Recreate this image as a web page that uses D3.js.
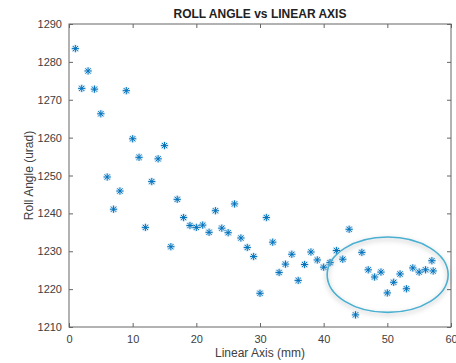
<!DOCTYPE html>
<html>
<head>
<script src="https://cdnjs.cloudflare.com/ajax/libs/d3/7.8.5/d3.min.js"></script>
<style>
  body { margin: 0; background: #fff; }
  svg { font-family: "Liberation Sans", Arial, sans-serif; }
</style>
</head>
<body>
<script>
// linear axis position (mm) and roll angle (urad)
var positions = [1, 2, 3, 4, 5, 6, 7, 8, 9, 10, 11, 12, 13, 14, 15, 16, 17, 18, 19, 20,
  21, 22, 23, 24, 25, 26, 27, 28, 29, 30, 31, 32, 33, 34, 35, 36, 37, 38, 39, 40,
  41, 42, 43, 44, 45, 46, 47, 48, 49, 50, 51, 52, 53, 54, 55, 56, 57, 57.2];
var rollAngles = [1283.5, 1273.0, 1277.6, 1272.8, 1266.3, 1249.6, 1241.1, 1245.9, 1272.4, 1259.7,
  1254.8, 1236.3, 1248.4, 1254.4, 1257.9, 1231.2, 1243.7, 1238.9, 1236.8, 1236.3,
  1236.9, 1235.0, 1240.7, 1236.1, 1234.9, 1242.5, 1233.5, 1231.0, 1228.6, 1218.9,
  1238.9, 1232.4, 1224.4, 1226.6, 1229.2, 1222.3, 1226.5, 1229.8, 1227.7, 1225.8,
  1227.0, 1230.2, 1227.9, 1235.8, 1213.2, 1229.7, 1225.1, 1223.2, 1224.5, 1219.0,
  1221.8, 1224.0, 1220.1, 1225.6, 1224.5, 1225.1, 1227.5, 1224.8];
var xTicks = [0, 10, 20, 30, 40, 50, 60];
var yTicks = [1210, 1220, 1230, 1240, 1250, 1260, 1270, 1280, 1290];
// highlighted region (centre and radii in data units)
var ellipseCentre = [50.05, 1223.8];
var ellipseRadii = [9.5, 9.95];

drawChart();

function drawChart() {
  var data = positions.map(function (p, i) { return { x: p, y: rollAngles[i] }; });

  var width = 456, height = 363;
  var mLeft = 69, mRight = 451, mTop = 24, mBottom = 327;

  var svg = d3.select("body").append("svg")
    .attr("width", width)
    .attr("height", height);

  var f = svg.append("defs").append("filter").attr("id", "shadow")
    .attr("x", "-20%").attr("y", "-20%").attr("width", "140%").attr("height", "150%");
  f.append("feDropShadow")
    .attr("dx", 0).attr("dy", 2).attr("stdDeviation", 2.5)
    .attr("flood-color", "#000").attr("flood-opacity", 0.3);

  var x = d3.scaleLinear().domain([0, 60]).range([mLeft, mRight]);
  var y = d3.scaleLinear().domain([1210, 1290]).range([mBottom, mTop]);

  var axisColor = "#666";
  var textColor = "#404040";

  // axis box
  svg.append("rect")
    .attr("x", mLeft).attr("y", mTop)
    .attr("width", mRight - mLeft).attr("height", mBottom - mTop)
    .attr("fill", "none").attr("stroke", axisColor).attr("stroke-width", 1);

  function styleAxis(g) {
    g.select(".domain").remove();
    g.selectAll(".tick line").attr("stroke", axisColor);
    g.selectAll(".tick text").attr("fill", textColor).style("font-size", "11px");
  }

  svg.append("g").attr("transform", "translate(0," + mBottom + ")")
    .call(d3.axisBottom(x).tickValues(xTicks).tickSize(-4).tickPadding(8))
    .call(styleAxis);
  svg.append("g").attr("transform", "translate(0," + mTop + ")")
    .call(d3.axisTop(x).tickValues(xTicks).tickSize(-4).tickFormat(""))
    .call(styleAxis);
  svg.append("g").attr("transform", "translate(" + mLeft + ",0)")
    .call(d3.axisLeft(y).tickValues(yTicks).tickSize(-4).tickPadding(7).tickFormat(d3.format("d")))
    .call(styleAxis);
  svg.append("g").attr("transform", "translate(" + mRight + ",0)")
    .call(d3.axisRight(y).tickValues(yTicks).tickSize(-4).tickFormat(""))
    .call(styleAxis);

  // title and labels
  svg.append("text")
    .attr("x", (mLeft + mRight) / 2).attr("y", 18)
    .attr("text-anchor", "middle")
    .style("font-size", "12px").style("font-weight", "bold")
    .attr("fill", "#222")
    .text("ROLL ANGLE vs LINEAR AXIS");

  svg.append("text")
    .attr("x", (mLeft + mRight) / 2).attr("y", 357)
    .attr("text-anchor", "middle")
    .style("font-size", "12px")
    .attr("fill", textColor)
    .text("Linear Axis (mm)");

  svg.append("text")
    .attr("transform", "translate(33," + ((mTop + mBottom) / 2) + ") rotate(-90)")
    .attr("text-anchor", "middle")
    .style("font-size", "12px")
    .attr("fill", textColor)
    .text("Roll Angle (urad)");

  // asterisk markers
  var marker = svg.append("g").selectAll("g")
    .data(data)
    .enter().append("g")
    .attr("transform", function (d) { return "translate(" + x(d.x) + "," + y(d.y) + ")"; });

  marker.append("circle").attr("r", 4).attr("fill", "#0072BD").attr("opacity", 0.15);
  var s = 3.6, dg = 2.6;
  [[-s, 0, s, 0], [0, -s, 0, s], [-dg, -dg, dg, dg], [-dg, dg, dg, -dg]].forEach(function (l) {
    marker.append("line")
      .attr("x1", l[0]).attr("y1", l[1]).attr("x2", l[2]).attr("y2", l[3])
      .attr("stroke", "#0072BD").attr("stroke-width", 1);
  });

  // ellipse annotation
  svg.append("ellipse")
    .attr("cx", x(ellipseCentre[0])).attr("cy", y(ellipseCentre[1]))
    .attr("rx", x(ellipseRadii[0]) - x(0))
    .attr("ry", y(1290 - ellipseRadii[1]) - y(1290))
    .attr("fill", "none")
    .attr("stroke", "#4BAFD0")
    .attr("stroke-width", 1.6)
    .attr("filter", "url(#shadow)");
}
</script>
</body>
</html>
